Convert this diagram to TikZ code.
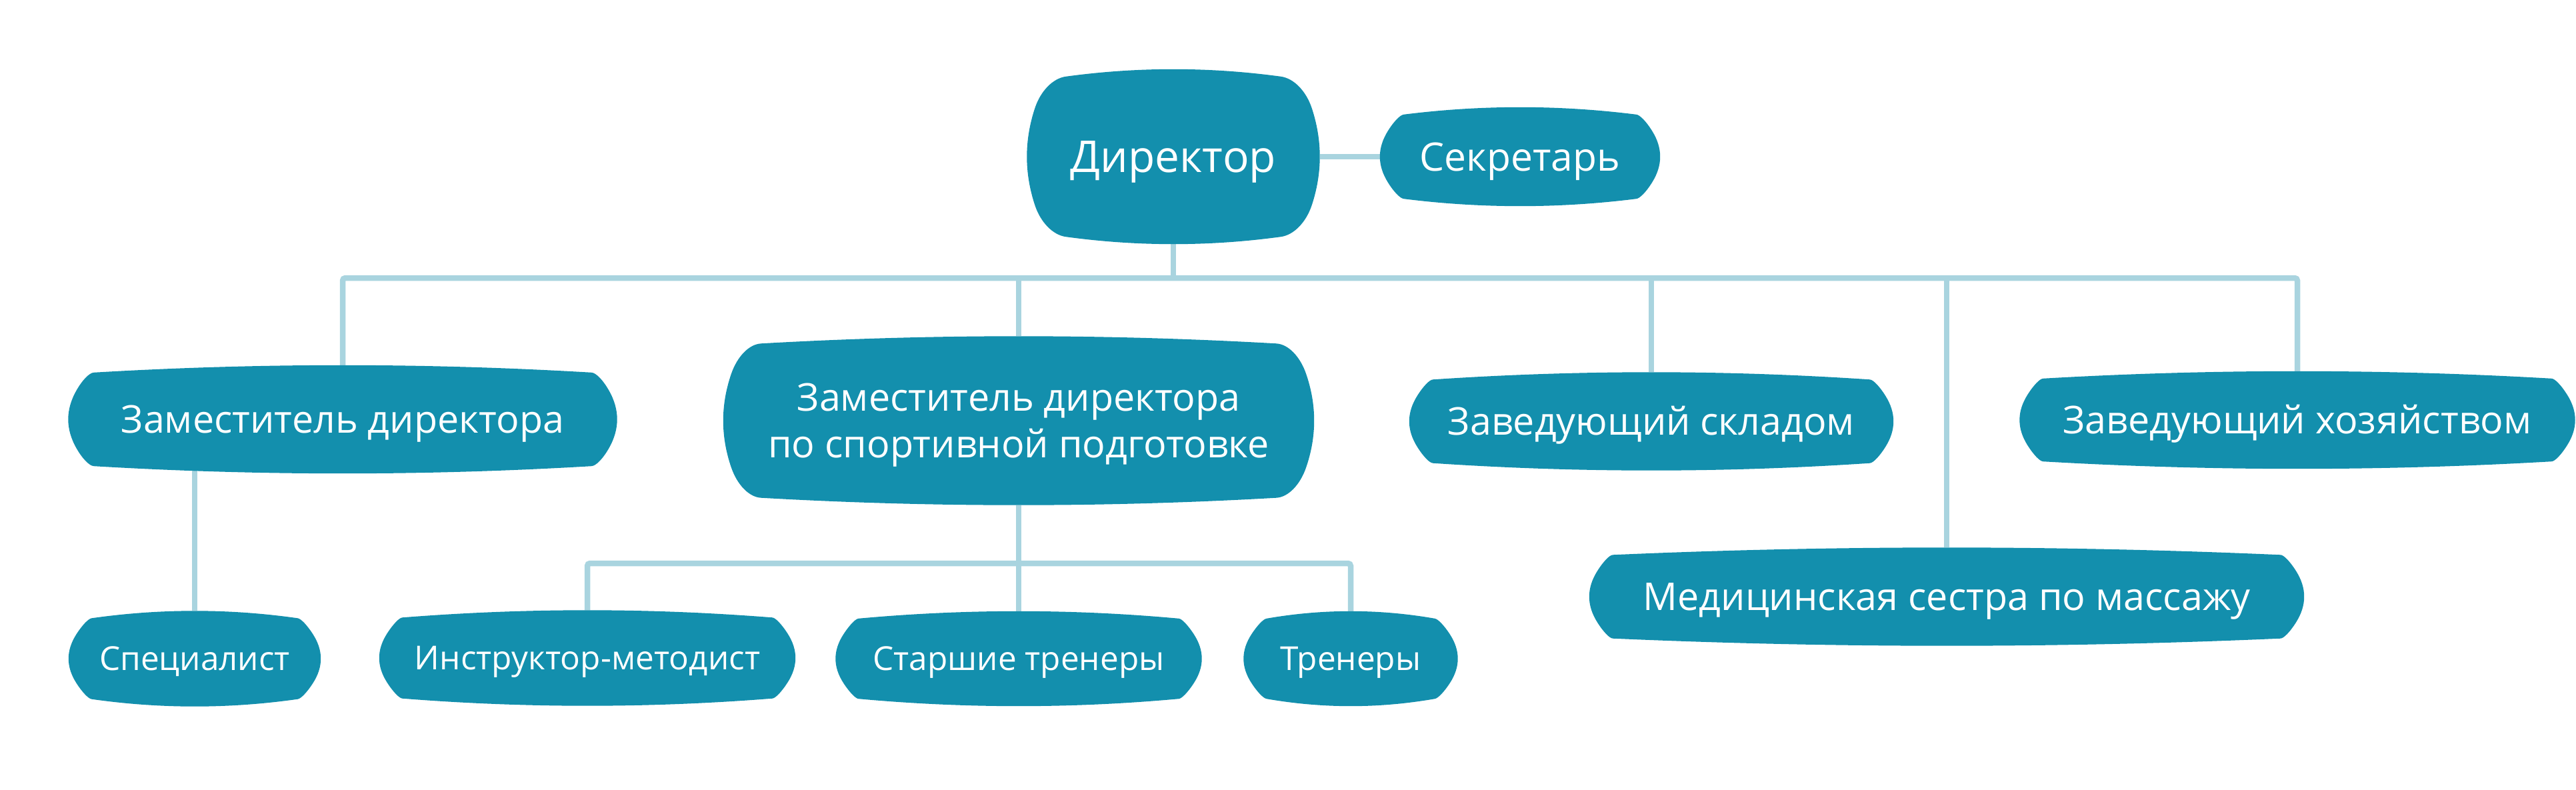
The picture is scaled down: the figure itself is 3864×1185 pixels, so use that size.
\documentclass[tikz,border=0pt]{standalone}
\usepackage{fontspec}
\setmainfont{Open Sans}
\usetikzlibrary{backgrounds}
\definecolor{boxc}{HTML}{138FAD}
\definecolor{linec}{HTML}{A9D4DF}
\def\blS{12}\def\blT{11}
\newcommand\blob[1]{%
  \pgfpointanchor{#1}{south west}\pgfgetlastxy\blXa\blYa
  \pgfpointanchor{#1}{north east}\pgfgetlastxy\blXb\blYb
  \pgfmathsetmacro\blxa{\blXa}\pgfmathsetmacro\blya{\blYa}%
  \pgfmathsetmacro\blxb{\blXb}\pgfmathsetmacro\blyb{\blYb}%
  \pgfmathsetmacro\blW{\blxb-\blxa}\pgfmathsetmacro\blH{\blyb-\blya}%
  \pgfmathsetmacro\blR{0.2*\blH+6}%
  \pgfmathsetmacro\blsa{(\blH-2*\blR)/3}%
  \pgfmathsetmacro\blta{(\blW-2*\blR)/3}%
  \pgfmathsetmacro\blca{4*\blS/3}\pgfmathsetmacro\blcb{4*\blT/3}%
  \pgfmathsetmacro\blda{100*sqrt((\blca/100)^2+(\blsa/100)^2)}%
  \pgfmathsetmacro\bldb{100*sqrt((\blta/100)^2+(\blcb/100)^2)}%
  \pgfmathsetmacro\blax{\blca/\blda}\pgfmathsetmacro\blay{\blsa/\blda}%
  \pgfmathsetmacro\blbx{\blta/\bldb}\pgfmathsetmacro\blby{\blcb/\bldb}%
  \pgfmathsetmacro\blDx{\blR-\blS}\pgfmathsetmacro\blDy{\blR-\blT}%
  \pgfmathsetmacro\blDet{\blax*\blby-\blay*\blbx}%
  \pgfmathsetmacro\blt{(\blDx*\blby-\blDy*\blbx)/\blDet}%
  \pgfmathsetmacro\blu{(\blax*\blDy-\blay*\blDx)/\blDet}%
  \pgfmathsetmacro\blux{0.6*\blt*\blax}\pgfmathsetmacro\bluy{0.6*\blt*\blay}%
  \pgfmathsetmacro\blvx{0.6*\blu*\blbx}\pgfmathsetmacro\blvy{0.6*\blu*\blby}%
  \pgfmathsetmacro\blxL{\blxa+\blS}\pgfmathsetmacro\blxLc{\blxa-\blS/3}%
  \pgfmathsetmacro\blxR{\blxb-\blS}\pgfmathsetmacro\blxRc{\blxb+\blS/3}%
  \pgfmathsetmacro\blyB{\blya+\blR}\pgfmathsetmacro\blyT{\blyb-\blR}%
  \pgfmathsetmacro\blysa{\blya+\blR+\blsa}\pgfmathsetmacro\blysb{\blyb-\blR-\blsa}%
  \pgfmathsetmacro\blyTop{\blyb-\blT}\pgfmathsetmacro\blyTc{\blyb+\blT/3}%
  \pgfmathsetmacro\blyBot{\blya+\blT}\pgfmathsetmacro\blyBc{\blya-\blT/3}%
  \pgfmathsetmacro\blxTa{\blxa+\blR}\pgfmathsetmacro\blxTb{\blxb-\blR}%
  \pgfmathsetmacro\blxtca{\blxa+\blR+\blta}\pgfmathsetmacro\blxtcb{\blxb-\blR-\blta}%
  \pgfmathsetmacro\blxLu{\blxL+\blux}\pgfmathsetmacro\blxRu{\blxR-\blux}%
  \pgfmathsetmacro\blyTu{\blyT+\bluy}\pgfmathsetmacro\blyBu{\blyB-\bluy}%
  \pgfmathsetmacro\blxTav{\blxTa-\blvx}\pgfmathsetmacro\blxTbv{\blxTb+\blvx}%
  \pgfmathsetmacro\blyTopv{\blyTop-\blvy}\pgfmathsetmacro\blyBotv{\blyBot+\blvy}%
  \fill[boxc] (\blxL pt,\blyB pt)
    .. controls (\blxLc pt,\blysa pt) and (\blxLc pt,\blysb pt) .. (\blxL pt,\blyT pt)
    .. controls (\blxLu pt,\blyTu pt) and (\blxTav pt,\blyTopv pt) .. (\blxTa pt,\blyTop pt)
    .. controls (\blxtca pt,\blyTc pt) and (\blxtcb pt,\blyTc pt) .. (\blxTb pt,\blyTop pt)
    .. controls (\blxTbv pt,\blyTopv pt) and (\blxRu pt,\blyTu pt) .. (\blxR pt,\blyT pt)
    .. controls (\blxRc pt,\blysb pt) and (\blxRc pt,\blysa pt) .. (\blxR pt,\blyB pt)
    .. controls (\blxRu pt,\blyBu pt) and (\blxTbv pt,\blyBotv pt) .. (\blxTb pt,\blyBot pt)
    .. controls (\blxtcb pt,\blyBc pt) and (\blxtca pt,\blyBc pt) .. (\blxTa pt,\blyBot pt)
    .. controls (\blxTav pt,\blyBotv pt) and (\blxLu pt,\blyBu pt) .. (\blxL pt,\blyB pt)
    -- cycle;
}
\begin{document}
\begin{tikzpicture}[x=1pt,y=-1pt,
  box/.style={inner sep=0pt, text=white, font=\fontsize{57.4}{70}\selectfont,
    text height=41pt, text depth=0pt},
  small/.style={font=\fontsize{49.5}{60}\selectfont, text height=35.3pt},
  conn/.style={draw=linec, line width=8.5pt, rounded corners=4pt}]
\useasboundingbox (0,0) rectangle (3864,1185);
\node[box, minimum width=439pt, minimum height=262pt, font=\fontsize{65.8}{70}\selectfont, text height=47pt] (dir) at (1760,235) {Директор};
\node[box, minimum width=420pt, minimum height=148pt, font=\fontsize{58.8}{70}\selectfont, text height=42pt] (sec) at (2280,235) {Секретарь};
\node[box, minimum width=823pt, minimum height=162pt] (zd) at (514,629) {Заместитель директора};
\node[box, minimum width=886pt, minimum height=253pt, align=center, text height=111pt] (zs) at (1528,631) {Заместитель директора\\по спортивной подготовке};
\node[box, minimum width=726pt, minimum height=147pt] (sk) at (2477,632) {Заведующий складом};
\node[box, minimum width=833pt, minimum height=146pt] (zh) at (3446,630) {Заведующий хозяйством};
\node[box, minimum width=1072pt, minimum height=147pt] (med) at (2920,895) {Медицинская сестра по массажу};
\node[box, small, minimum width=378pt, minimum height=143pt] (spec) at (292,988) {Специалист};
\node[box, small, minimum width=624pt, minimum height=143pt] (instr) at (881,987) {Инструктор-методист};
\node[box, small, minimum width=549pt, minimum height=142pt] (st) at (1528,988) {Старшие тренеры};
\node[box, small, minimum width=321pt, minimum height=142pt] (tren) at (2026,988) {Тренеры};
\coordinate (bus) at (1760,417);
\coordinate (sub) at (1528,845);
\begin{pgfonlayer}{background}
\draw[conn] (zd.north) |- (bus) -| (zh.north);
\draw[conn] (dir.south) -- (bus);
\draw[conn] (zs.north) -- (zs.north |- bus);
\draw[conn] (sk.north) -- (sk.north |- bus);
\draw[conn] (med.north) -- (med.north |- bus);
\draw[conn] (instr.north) |- (sub) -| (tren.north);
\draw[conn] (zs.south) -- (st.north);
\draw[conn] (spec.north) -- (spec.north |- zd.center);
\draw[conn] (dir.east) -- (sec.west);
\blob{dir}\blob{sec}\blob{zd}\blob{zs}\blob{sk}\blob{zh}\blob{med}
\blob{spec}\blob{instr}\blob{st}\blob{tren}
\end{pgfonlayer}
\end{tikzpicture}
\end{document}
